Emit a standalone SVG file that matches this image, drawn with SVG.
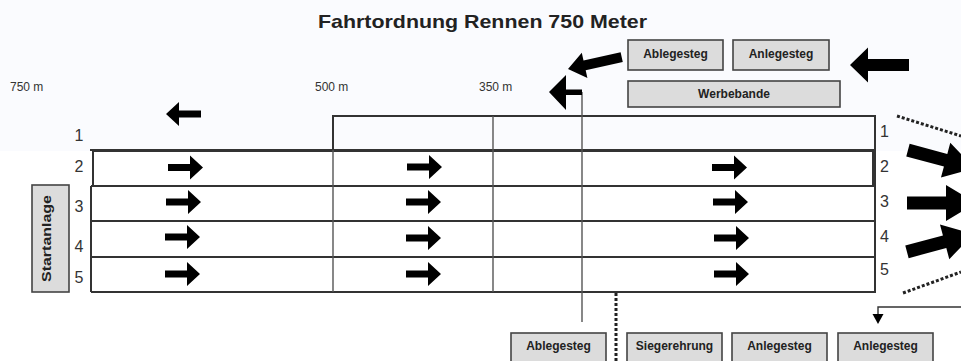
<svg xmlns="http://www.w3.org/2000/svg" width="961" height="361" viewBox="0 0 961 361">
<defs>
<style>
.t{font-family:"Liberation Sans",Arial,sans-serif;fill:#222}
.title{font-size:19px;font-weight:bold}
.dist{font-size:12px;fill:#333}
.num{font-size:16px;fill:#333}
.bl{font-size:12px;font-weight:bold;text-anchor:middle}
.box{fill:#dcdcdc;stroke:#444;stroke-width:1.6}
.lane{fill:none;stroke:#333;stroke-width:2}
.div{fill:none;stroke:#555;stroke-width:1.4}
.dot{fill:none;stroke:#222;stroke-width:3;stroke-dasharray:3 2}
.ar{fill:#000}
</style>
<path id="sa" d="M0,0 L-13,-12 L-13,-3.5 L-35,-3.5 L-35,3.5 L-13,3.5 L-13,12 Z"/>
<path id="ba" d="M0,0 L-30,-18 L-30,-6.5 L-69,-6.5 L-69,6.5 L-30,6.5 L-30,18 Z"/>
</defs>
<rect x="0" y="0" width="961" height="361" fill="#ffffff"/>
<rect x="0" y="0" width="961" height="151" fill="#fafbfe"/>

<text class="t title" x="318" y="28" textLength="329" lengthAdjust="spacingAndGlyphs">Fahrtordnung Rennen 750 Meter</text>

<g id="distances">
<text class="t dist" x="10" y="91">750 m</text>
<text class="t dist" x="315" y="91">500 m</text>
<text class="t dist" x="479" y="91">350 m</text>
</g>

<g id="lanes">
<rect x="333" y="116" width="542" height="34" class="lane"/>
<rect x="93" y="151" width="780" height="35" class="lane" stroke-width="1.6"/>
<line x1="90" y1="150" x2="876" y2="150" class="lane" stroke-width="2.5"/>
<line x1="91" y1="186" x2="876" y2="186" class="lane"/>
<line x1="91" y1="221" x2="876" y2="221" class="lane"/>
<line x1="91" y1="257" x2="876" y2="257" class="lane"/>
<line x1="91" y1="292" x2="876" y2="292" class="lane"/>
<line x1="91" y1="186" x2="91" y2="292" class="lane" stroke-width="1.6"/>
<line x1="875" y1="150" x2="875" y2="292" class="lane" stroke-width="1.6"/>
<line x1="333" y1="150" x2="333" y2="292" class="div"/>
<line x1="493" y1="116" x2="493" y2="292" class="div"/>
<line x1="582" y1="92" x2="582" y2="322" class="div"/>
</g>

<g id="lane-numbers">
<text class="t num" x="79" y="141" text-anchor="middle">1</text>
<text class="t num" x="79" y="171.5" text-anchor="middle">2</text>
<text class="t num" x="79" y="212" text-anchor="middle">3</text>
<text class="t num" x="79" y="252" text-anchor="middle">4</text>
<text class="t num" x="79" y="283" text-anchor="middle">5</text>
<text class="t num" x="880" y="137">1</text>
<text class="t num" x="880" y="172">2</text>
<text class="t num" x="880" y="207">3</text>
<text class="t num" x="880" y="242">4</text>
<text class="t num" x="880" y="275">5</text>
</g>

<g id="startanlage">
<rect x="32" y="185" width="37" height="107" class="box"/>
<text class="t bl" transform="translate(51,238.5) rotate(-90)" font-size="15" textLength="87" lengthAdjust="spacingAndGlyphs">Startanlage</text>
</g>

<g id="ablegesteg-top">
<rect x="628" y="40" width="95" height="30" class="box"/>
<text class="t bl" x="675.5" y="58">Ablegesteg</text>
</g>
<g id="anlegesteg-top">
<rect x="733" y="40" width="96" height="30" class="box"/>
<text class="t bl" x="781" y="58">Anlegesteg</text>
</g>
<g id="werbebande">
<rect x="628" y="81" width="212" height="26" class="box"/>
<text class="t bl" x="734" y="98">Werbebande</text>
</g>

<g id="ablegesteg-bottom">
<rect x="511" y="333" width="95" height="32" class="box"/>
<text class="t bl" x="558.5" y="350">Ablegesteg</text>
</g>
<g id="siegerehrung">
<rect x="627" y="333" width="95" height="32" class="box"/>
<text class="t bl" x="674.5" y="350">Siegerehrung</text>
</g>
<g id="anlegesteg-bottom1">
<rect x="732" y="333" width="95" height="32" class="box"/>
<text class="t bl" x="779.5" y="350">Anlegesteg</text>
</g>
<g id="anlegesteg-bottom2">
<rect x="838" y="333" width="95" height="32" class="box"/>
<text class="t bl" x="885.5" y="350">Anlegesteg</text>
</g>

<g id="connectors">
<use href="#sa" class="ar" transform="translate(203,167.5)"/>
<use href="#sa" class="ar" transform="translate(201,202)"/>
<use href="#sa" class="ar" transform="translate(200,237)"/>
<use href="#sa" class="ar" transform="translate(200,274)"/>
<use href="#sa" class="ar" transform="translate(442,167)"/>
<use href="#sa" class="ar" transform="translate(441,202)"/>
<use href="#sa" class="ar" transform="translate(441,238)"/>
<use href="#sa" class="ar" transform="translate(441,274)"/>
<use href="#sa" class="ar" transform="translate(747,167.5)"/>
<use href="#sa" class="ar" transform="translate(748,202)"/>
<use href="#sa" class="ar" transform="translate(749,238)"/>
<use href="#sa" class="ar" transform="translate(749,274)"/>
<use href="#sa" class="ar" transform="translate(166,114) rotate(180)"/>
<path class="ar" d="M549,92 L566,75 L566,89.5 L582,89.5 L582,95 L566,95 L566,110 Z"/>
<path class="ar" transform="translate(568,69) rotate(167.5)" d="M0,0 L-17,-13 L-17,-5 L-55,-5 L-55,5 L-17,5 L-17,13 Z"/>
<path class="ar" transform="translate(850,65) rotate(180)" d="M0,0 L-18,-17.5 L-18,-6 L-59,-6 L-59,6 L-18,6 L-18,17.5 Z"/>
<use href="#ba" class="ar" transform="translate(974.6,168) rotate(15)"/>
<use href="#ba" class="ar" transform="translate(976,203)"/>
<use href="#ba" class="ar" transform="translate(973.6,234) rotate(-15)"/>
<line x1="897" y1="116" x2="961" y2="136" class="dot"/>
<line x1="903" y1="293" x2="961" y2="272" class="dot"/>
<line x1="616" y1="293" x2="616" y2="361" class="dot"/>
<polyline points="961,307 878,307 878,316" fill="none" stroke="#333" stroke-width="1.4"/>
<path class="ar" d="M878,324 L872.5,314 L883.5,314 Z"/>
</g>
</svg>
